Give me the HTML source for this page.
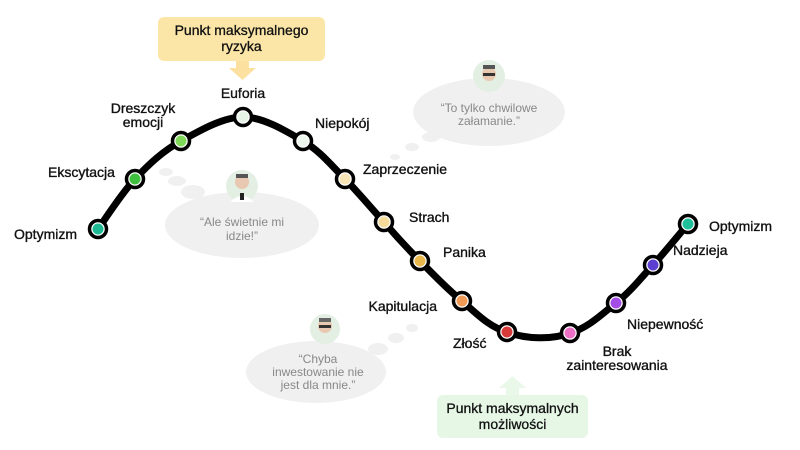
<!DOCTYPE html>
<html><head><meta charset="utf-8"><style>
html,body{margin:0;padding:0;background:#fff;}
svg{display:block;font-family:"Liberation Sans",sans-serif;}
.l{font-size:14px;fill:#111;stroke:#111;stroke-width:0.35;}
.q{font-size:12px;fill:#888;}
.c{font-size:14px;fill:#111;stroke:#111;stroke-width:0.3;}
</style></head><body>
<svg width="800" height="450" viewBox="0 0 800 450">
<rect x="158" y="17" width="167" height="44" rx="6" fill="#fbe6a8"/>
<text class="c" x="241.5" y="35" text-anchor="middle">Punkt maksymalnego</text>
<text class="c" x="241.5" y="51" text-anchor="middle">ryzyka</text>
<polygon points="236,61 249,61 249,68 256,68 242.5,80 229,68 236,68" fill="#fbe0a0"/>

<rect x="437" y="395" width="151" height="43" rx="6" fill="#e6f7e6"/>
<text class="c" x="512.5" y="413" text-anchor="middle">Punkt maksymalnych</text>
<text class="c" x="512.5" y="429" text-anchor="middle">możliwości</text>
<polygon points="506,395 519,395 519,388 526,388 512.5,376 499,388 506,388" fill="#eaf8ea"/>

<g fill="#f0f0f0">
<ellipse cx="242" cy="225" rx="77" ry="33"/>
<ellipse cx="193" cy="192" rx="12" ry="7"/>
<ellipse cx="177" cy="181" rx="9" ry="5"/>
<ellipse cx="166" cy="172" rx="7" ry="4"/>
<ellipse cx="489" cy="112" rx="76" ry="34"/>
<ellipse cx="431" cy="137" rx="9" ry="5"/>
<ellipse cx="412" cy="147" rx="7" ry="4"/>
<ellipse cx="395" cy="157" rx="5" ry="3"/>
<ellipse cx="316" cy="372" rx="70" ry="31"/>
<ellipse cx="378" cy="349" rx="10" ry="6"/>
<ellipse cx="396" cy="338" rx="8" ry="5"/>
<ellipse cx="412" cy="328" rx="6" ry="4"/>
</g>
<g>
<circle cx="242" cy="186" r="16" fill="#e4efe4"/><circle cx="242" cy="182" r="7" fill="#e8c8b0"/><rect x="236" y="174" width="12" height="4" fill="#555"/><path d="M230,202 Q242,190 254,202Z" fill="#fff"/><rect x="240" y="193" width="4" height="7" fill="#222"/>
<circle cx="489" cy="76" r="16" fill="#e4efe4"/><circle cx="489" cy="74" r="7" fill="#e8c8b0"/><rect x="483" y="65" width="12" height="4" fill="#555"/><rect x="483" y="73" width="12" height="3" fill="#333"/>
<circle cx="325" cy="329" r="15" fill="#e4efe4"/><circle cx="325" cy="326" r="7" fill="#e8c8b0"/><rect x="319" y="318" width="12" height="4" fill="#666"/><rect x="319" y="325" width="12" height="3" fill="#333"/>
</g>
<text class="q" x="242" y="226" text-anchor="middle" font-size="13">“Ale świetnie mi</text>
<text class="q" x="242" y="240" text-anchor="middle" font-size="13">idzie!”</text>
<text class="q" x="489" y="112" text-anchor="middle">“To tylko chwilowe</text>
<text class="q" x="489" y="125" text-anchor="middle">załamanie.”</text>
<text class="q" x="318" y="363" text-anchor="middle">“Chyba</text>
<text class="q" x="318" y="376" text-anchor="middle">inwestowanie nie</text>
<text class="q" x="318" y="389" text-anchor="middle">jest dla mnie.”</text>

<path d="M98,229 C104,221 121,194 135,179 C149,164 163,151 181,141 C199,131 223,117 243,117 C263,117 286,131 303,141 C320,151 331,165 345,179 C358,192 371,208 384,222 C396,236 407,248 420,261 C433,274 447,289 462,301 C476,313 489,327 507,332 C525,339 552,340 570,333 C588,328 602,314 616,303 C630,292 641,278 653,265 C665,252 682,231 688,224" fill="none" stroke="#000" stroke-width="7" stroke-linecap="round"/>

<g stroke="#000" stroke-width="3.5" fill="#fff">
<circle cx="98" cy="229" r="8.5"/>
<circle cx="135" cy="179" r="8.5"/>
<circle cx="181" cy="141" r="8.5"/>
<circle cx="243" cy="117" r="8.5"/>
<circle cx="303" cy="141" r="8.5"/>
<circle cx="345" cy="179" r="8.5"/>
<circle cx="384" cy="222" r="8.5"/>
<circle cx="420" cy="261" r="8.5"/>
<circle cx="462" cy="301" r="8.5"/>
<circle cx="507" cy="332" r="8.5"/>
<circle cx="570" cy="333" r="8.5"/>
<circle cx="616" cy="303" r="8.5"/>
<circle cx="653" cy="265" r="8.5"/>
<circle cx="688" cy="224" r="8.5"/>
</g>
<g>
<circle cx="98" cy="229" r="5.5" fill="#1db992"/>
<circle cx="135" cy="179" r="5.5" fill="#3ec03e"/>
<circle cx="181" cy="141" r="5.5" fill="#7fd85a"/>
<circle cx="243" cy="117" r="5.5" fill="#e6f4e6"/>
<circle cx="303" cy="141" r="5.5" fill="#edf6ed"/>
<circle cx="345" cy="179" r="5.5" fill="#f7e4b4"/>
<circle cx="384" cy="222" r="5.5" fill="#f5dc9c"/>
<circle cx="420" cy="261" r="5.5" fill="#e8b84c"/>
<circle cx="462" cy="301" r="5.5" fill="#ef9a56"/>
<circle cx="507" cy="332" r="5.5" fill="#d83a3a"/>
<circle cx="570" cy="333" r="5.5" fill="#ec6fc6"/>
<circle cx="616" cy="303" r="5.5" fill="#a44ce6"/>
<circle cx="653" cy="265" r="5.5" fill="#5c3fd0"/>
<circle cx="688" cy="224" r="5.5" fill="#1fbf9a"/>
</g>

<text class="l" x="14" y="239">Optymizm</text>
<text class="l" x="48" y="177">Ekscytacja</text>
<text class="l" x="143" y="113" text-anchor="middle">Dreszczyk</text>
<text class="l" x="143" y="127" text-anchor="middle">emocji</text>
<text class="l" x="243" y="98" text-anchor="middle">Euforia</text>
<text class="l" x="315" y="128">Niepokój</text>
<text class="l" x="363" y="174">Zaprzeczenie</text>
<text class="l" x="409" y="222">Strach</text>
<text class="l" x="443" y="257">Panika</text>
<text class="l" x="437" y="311" text-anchor="end">Kapitulacja</text>
<text class="l" x="453" y="348">Złość</text>
<text class="l" x="617" y="356" text-anchor="middle">Brak</text>
<text class="l" x="617" y="370" text-anchor="middle">zainteresowania</text>
<text class="l" x="627" y="329">Niepewność</text>
<text class="l" x="673" y="255">Nadzieja</text>
<text class="l" x="709" y="231">Optymizm</text>
</svg>
</body></html>
